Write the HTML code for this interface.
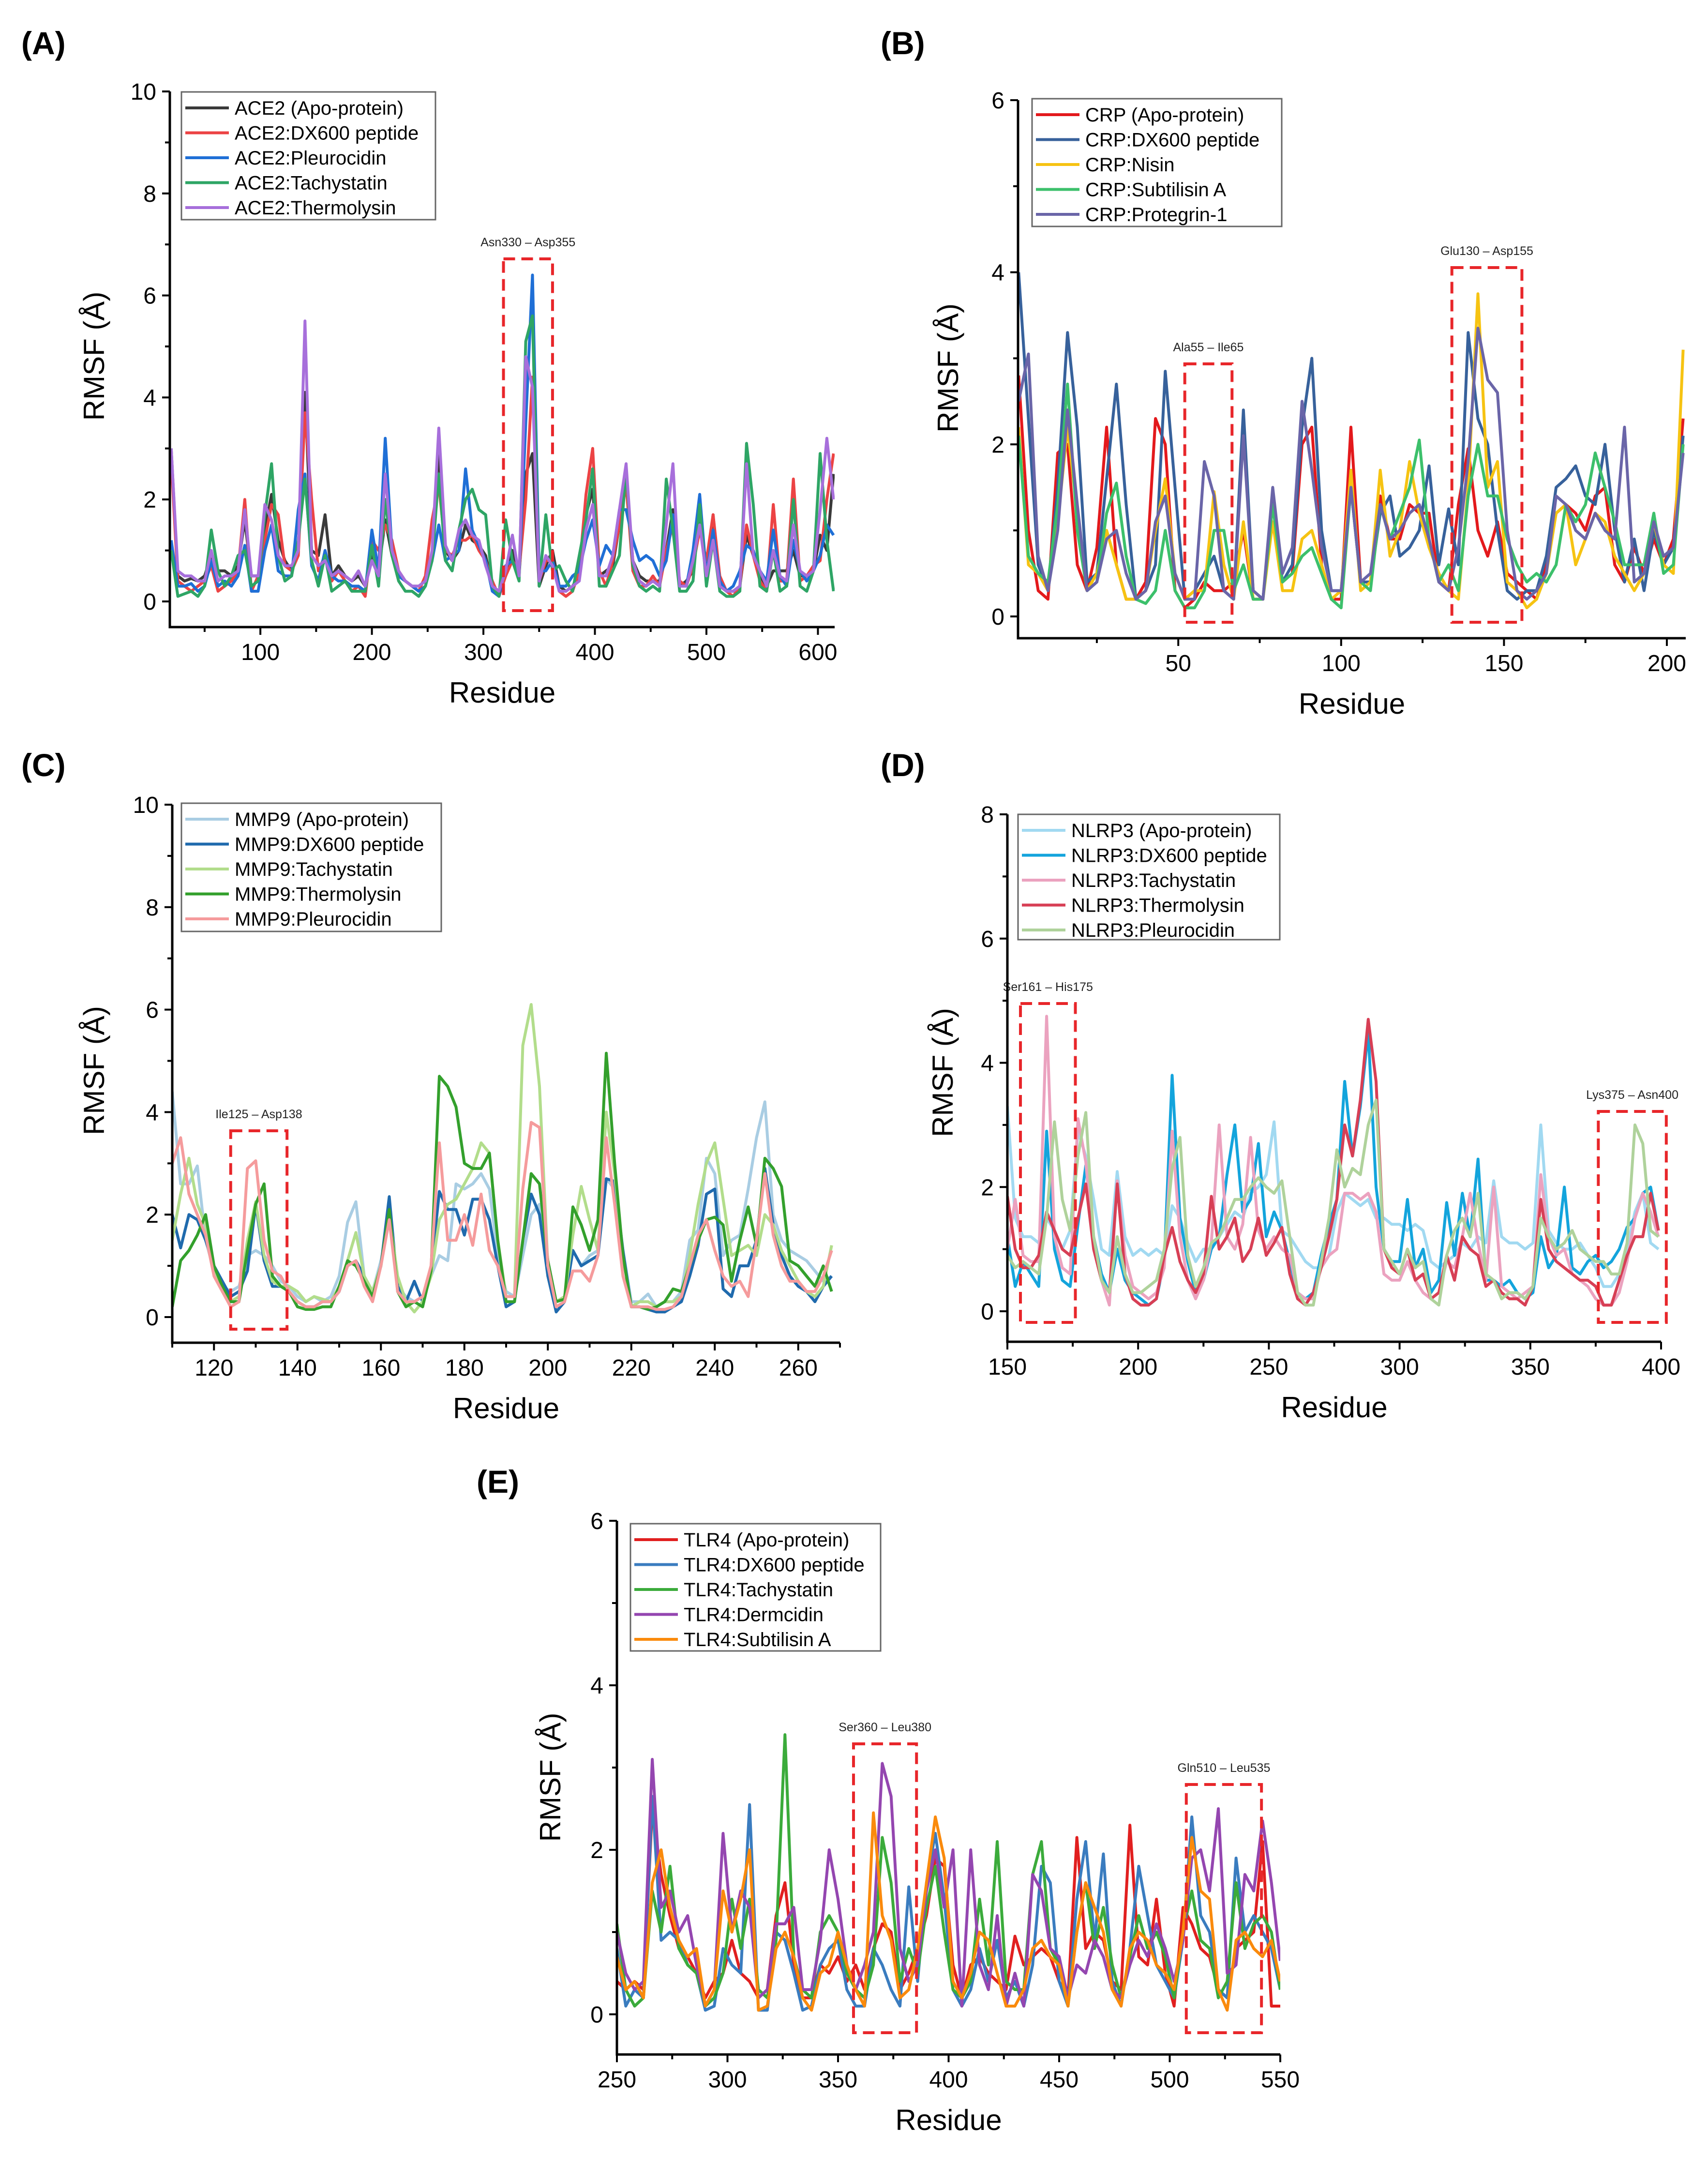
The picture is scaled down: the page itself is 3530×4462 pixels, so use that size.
<!DOCTYPE html>
<html><head><meta charset="utf-8"><title>RMSF panels</title>
<style>
html,body{margin:0;padding:0;background:#fff;}
svg{display:block;font-family:"Liberation Sans",Arial,sans-serif;}
</style></head>
<body>
<svg id="fig" xmlns="http://www.w3.org/2000/svg" width="3530" height="4462" viewBox="0 0 3530 4462">
<rect x="0" y="0" width="3530" height="4462" fill="#fff"/>
</svg>
<script>
// ---------- Panel A data (residue start 20, step 6) ----------
const startA = 20, stepA = 6;
const namesA = ["ACE2 (Apo-protein)","ACE2:DX600 peptide","ACE2:Pleurocidin","ACE2:Tachystatin","ACE2:Thermolysin"];
const ace2Apo = [3.0,0.5,0.4,0.45,0.4,0.5,0.9,0.6,0.6,0.5, 0.7,1.6,0.5,0.5,1.4,2.1,1.2,0.8,0.6,1.0, 4.1,1.0,0.9,1.7,0.5,0.7,0.5,0.4,0.5,0.3, 0.9,0.6,1.6,0.9,0.5,0.4,0.3,0.3,0.4,0.9, 3.0,1.0,0.8,1.0,1.5,1.2,1.1,0.9,0.3,0.2, 0.5,1.0,0.5,2.5,2.9,0.3,0.7,1.0,0.3,0.2, 0.3,0.5,1.7,2.2,0.5,0.6,0.7,1.5,2.5,0.8, 0.5,0.4,0.4,0.4,1.0,1.8,0.3,0.4,0.6,1.8, 0.6,1.7,0.3,0.2,0.2,0.3,1.3,0.9,0.5,0.3, 0.6,0.6,0.6,1.0,0.5,0.5,0.6,1.3,1.0,2.5];
const ace2Dx600 = [2.8,0.4,0.3,0.2,0.3,0.4,0.7,0.2,0.3,0.4, 0.6,2.0,0.2,0.5,1.2,1.9,1.7,0.7,0.6,0.9, 3.7,2.0,0.6,0.9,0.4,0.6,0.4,0.2,0.3,0.1, 1.2,1.0,1.5,1.2,0.6,0.4,0.3,0.2,0.5,1.6, 2.3,1.0,0.9,1.2,1.2,1.3,1.0,0.8,0.4,0.1, 0.5,0.8,0.6,2.0,4.4,0.4,0.8,0.8,0.2,0.1, 0.2,0.6,2.1,3.0,0.6,0.3,0.8,1.5,2.3,0.6, 0.3,0.3,0.5,0.3,1.0,1.5,0.4,0.3,0.7,1.4, 0.8,1.7,0.5,0.2,0.1,0.3,1.5,0.9,0.4,0.2, 1.9,0.4,0.4,2.4,0.4,0.5,0.7,0.8,2.0,2.9];
const ace2Pleuro = [1.2,0.3,0.3,0.35,0.2,0.3,0.8,0.3,0.4,0.3, 0.5,1.1,0.2,0.2,1.0,1.5,0.6,0.5,0.5,1.8, 2.5,0.7,0.4,1.0,0.5,0.4,0.4,0.3,0.3,0.2, 1.4,0.6,3.2,1.0,0.5,0.4,0.3,0.2,0.3,0.8, 1.5,0.8,0.9,1.0,2.6,1.4,1.1,0.8,0.2,0.1, 0.7,0.8,0.5,3.5,6.4,0.6,0.6,0.8,0.3,0.3, 0.5,0.6,1.2,1.6,0.7,1.1,0.9,1.8,1.8,1.2, 0.8,0.9,0.8,0.5,0.8,1.7,0.3,0.3,1.0,2.1, 0.5,1.4,0.4,0.2,0.3,0.6,1.1,1.0,0.6,0.4, 1.4,0.5,0.3,1.2,0.6,0.4,0.6,0.9,1.5,1.3];
const ace2Tachy = [1.0,0.1,0.15,0.2,0.1,0.3,1.4,0.6,0.3,0.5, 0.9,1.0,0.3,0.4,1.7,2.7,0.9,0.4,0.5,1.2, 2.4,0.8,0.3,0.9,0.2,0.3,0.4,0.2,0.2,0.2, 1.1,0.3,2.0,0.9,0.4,0.2,0.2,0.1,0.3,0.8, 2.5,0.8,0.6,1.4,2.0,2.2,1.8,1.7,0.3,0.1, 1.6,0.8,0.4,5.1,5.6,0.3,1.7,0.6,0.7,0.4, 0.2,0.9,1.6,2.6,0.3,0.3,0.6,0.9,2.6,0.7, 0.3,0.2,0.3,0.2,2.4,1.4,0.2,0.2,0.4,1.9, 0.3,1.2,0.2,0.1,0.1,0.2,3.1,1.9,0.3,0.2, 1.0,0.2,0.3,2.0,0.3,0.2,0.6,2.9,1.2,0.2];
const ace2Thermo = [3.0,0.6,0.5,0.5,0.4,0.4,1.0,0.4,0.5,0.5, 0.6,1.8,0.5,0.5,1.9,1.6,0.9,0.7,0.7,1.0, 5.5,0.9,0.7,0.8,0.5,0.6,0.5,0.4,0.6,0.3, 0.8,0.5,2.5,1.0,0.6,0.4,0.3,0.3,0.4,1.0, 3.4,1.1,0.8,1.4,1.6,1.3,1.2,0.7,0.3,0.2, 0.6,1.3,0.5,4.8,4.2,0.4,0.9,0.7,0.2,0.2, 0.3,0.4,1.4,1.9,0.5,0.5,0.9,1.8,2.7,0.8, 0.4,0.3,0.4,0.3,1.5,2.7,0.3,0.3,0.8,1.5, 0.5,1.2,0.3,0.2,0.2,0.3,2.7,0.9,0.6,0.3, 1.0,0.5,0.4,1.5,0.6,0.5,0.6,1.8,3.2,2.0];
const xTicksA = [100,200,300,400,500,600];
const yTicksA = [0,2,4,6,8,10];

// ---------- Panel B data (residue start 1, step 3) ----------
const startB = 1, stepB = 3;
const namesB = ["CRP (Apo-protein)","CRP:DX600 peptide","CRP:Nisin","CRP:Subtilisin A","CRP:Protegrin-1"];
const crpApo = [2.8,1.0,0.3,0.2,1.9,2.0,0.6,0.3,0.8,2.2, 0.6,0.2,0.2,0.4,2.3,2.0,0.3,0.1,0.2,0.4, 0.3,0.3,0.4,1.0,0.2,0.2,1.3,0.4,0.5,2.0, 2.2,0.6,0.2,0.2,2.2,0.4,0.4,1.4,0.9,0.9, 1.3,1.2,1.2,0.4,0.3,1.3,1.95,1.0,0.7,1.1, 0.5,0.4,0.3,0.2,0.6,1.2,1.3,1.2,1.0,1.4, 1.5,0.6,0.4,0.8,0.5,0.9,0.6,0.9,2.3];
const crpDx600 = [4.0,2.3,0.6,0.3,1.5,3.3,2.2,0.4,0.5,1.6, 2.7,1.3,0.2,0.3,0.6,2.85,1.5,0.2,0.3,0.5, 0.7,0.3,0.2,2.4,0.3,0.2,1.4,0.4,0.6,2.2, 3.0,1.0,0.3,0.3,1.5,0.4,0.4,1.2,1.4,0.7, 0.8,1.0,1.75,0.6,1.25,0.6,3.3,2.3,2.0,1.0, 0.3,0.2,0.3,0.3,0.7,1.5,1.6,1.75,1.4,1.3, 2.0,1.0,0.4,0.9,0.3,1.0,0.6,0.8,2.1];
const crpNisin = [2.2,0.6,0.5,0.3,1.1,2.2,1.2,0.3,0.5,1.0, 0.6,0.2,0.2,0.3,1.0,1.6,0.5,0.2,0.3,0.3, 1.45,0.6,0.2,1.1,0.2,0.2,1.1,0.3,0.3,0.9, 1.0,0.6,0.2,0.3,1.7,0.3,0.4,1.7,0.7,1.0, 1.8,1.2,0.8,0.5,0.3,0.2,1.5,3.75,1.5,1.8, 0.4,0.3,0.1,0.2,0.5,1.2,1.3,0.6,0.9,1.2, 1.1,0.7,0.5,0.3,0.5,1.1,0.6,0.5,3.1];
const crpSubtilisin = [2.1,0.7,0.5,0.4,1.3,2.7,1.0,0.3,0.4,1.2, 1.55,0.7,0.2,0.15,0.3,1.0,0.3,0.1,0.1,0.3, 1.0,1.0,0.3,0.6,0.2,0.2,1.3,0.4,0.5,0.7, 0.8,0.5,0.2,0.1,1.5,0.4,0.3,1.3,0.9,1.2, 1.5,2.05,0.9,0.4,0.6,0.3,1.4,2.0,1.4,1.4, 0.9,0.6,0.4,0.5,0.4,0.6,1.3,1.1,1.3,1.9, 1.5,1.1,0.6,0.6,0.6,1.2,0.5,0.6,2.0];
const crpProtegrin = [2.5,3.05,0.7,0.3,1.0,2.4,1.3,0.3,0.4,0.9, 1.0,0.5,0.2,0.3,1.1,1.4,0.5,0.2,0.2,1.8, 1.4,0.3,0.2,2.1,0.3,0.2,1.5,0.5,0.8,2.5, 1.7,0.8,0.3,0.3,1.5,0.4,0.5,1.3,0.9,1.0, 1.2,1.3,0.9,0.4,0.3,0.8,1.8,3.35,2.75,2.6, 1.0,0.3,0.2,0.3,0.5,1.4,1.3,1.0,0.9,1.2, 1.0,0.9,2.2,0.4,0.5,1.1,0.7,0.8,1.9];
const xTicksB = [50,100,150,200];
const yTicksB = [0,2,4,6];

// ---------- Panel C data (residue start 110, step 2) ----------
const startC = 110, stepC = 2;
const namesC = ["MMP9 (Apo-protein)","MMP9:DX600 peptide","MMP9:Tachystatin","MMP9:Thermolysin","MMP9:Pleurocidin"];
const mmpApo = [4.4,2.6,2.6,2.95,1.5,0.9,0.6,0.5,0.6,1.2, 1.3,1.2,1.0,0.7,0.6,0.4,0.3,0.4,0.3,0.4, 0.8,1.85,2.25,0.8,0.5,1.1,1.9,0.6,0.4,0.3, 0.4,0.8,1.2,1.1,2.6,2.5,2.6,2.8,2.5,1.2, 0.5,0.4,1.2,2.0,2.2,0.8,0.2,0.3,1.3,1.0, 1.2,1.3,2.7,2.5,1.3,0.3,0.3,0.45,0.2,0.3, 0.3,0.5,1.5,1.7,3.1,2.8,1.2,1.5,1.6,2.5, 3.5,4.2,2.0,1.5,1.3,1.2,1.1,0.9,0.7,0.8];
const mmpDx600 = [2.0,1.35,2.0,1.9,1.5,1.0,0.7,0.4,0.5,0.9, 2.2,1.1,0.6,0.6,0.5,0.3,0.2,0.2,0.3,0.3, 0.5,1.0,1.1,0.8,0.4,1.0,2.35,0.6,0.3,0.7, 0.3,0.9,2.45,2.1,2.1,1.6,2.3,2.3,1.9,1.0, 0.2,0.3,1.5,2.4,2.0,0.8,0.1,0.3,1.3,1.0, 1.1,1.2,2.7,2.65,1.3,0.2,0.2,0.15,0.1,0.1, 0.2,0.3,0.8,1.4,2.4,2.5,0.55,0.4,1.0,1.0, 1.5,2.9,1.8,1.2,0.8,0.6,0.5,0.3,0.6,0.8];
const mmpTachy = [1.5,2.4,3.1,2.2,1.8,1.0,0.5,0.3,0.4,1.5, 2.25,1.2,0.7,0.6,0.6,0.5,0.3,0.4,0.35,0.3, 0.6,1.1,1.65,0.8,0.5,1.0,2.0,0.8,0.3,0.1, 0.3,0.8,1.9,2.2,2.3,2.6,2.9,3.4,3.2,1.5, 0.4,0.4,5.3,6.1,4.5,1.0,0.3,0.4,1.6,2.55, 1.9,1.3,4.0,2.8,1.2,0.2,0.3,0.3,0.2,0.3, 0.3,0.4,1.2,2.2,3.0,3.4,2.3,1.2,1.3,1.4, 1.2,2.0,1.8,1.3,1.0,0.7,0.5,0.4,0.6,1.4];
const mmpThermo = [0.2,1.1,1.3,1.6,2.0,1.0,0.6,0.3,0.3,1.3, 2.2,2.6,0.8,0.6,0.5,0.2,0.15,0.15,0.2,0.2, 0.6,1.1,1.0,0.7,0.4,1.0,2.1,0.5,0.2,0.3, 0.2,0.9,4.7,4.5,4.1,3.0,2.9,2.9,3.2,1.5, 0.3,0.3,1.5,2.8,2.6,1.1,0.3,0.35,2.15,1.8, 1.3,1.9,5.15,3.0,1.2,0.2,0.2,0.15,0.2,0.3, 0.55,0.5,1.0,1.5,1.9,1.95,1.8,0.7,1.5,2.15, 1.4,3.1,2.9,2.55,1.1,1.0,0.8,0.6,1.0,0.5];
const mmpPleuro = [3.0,3.5,2.4,2.0,1.6,0.8,0.5,0.2,0.3,2.9, 3.05,1.5,0.9,0.8,0.5,0.3,0.2,0.2,0.3,0.3, 0.5,1.0,1.1,0.6,0.3,1.0,1.9,0.5,0.3,0.3, 0.4,1.0,3.4,1.5,1.5,2.0,1.4,2.4,1.3,1.0, 0.4,0.4,2.5,3.8,3.7,1.0,0.2,0.3,0.9,0.9, 0.7,1.2,3.5,2.2,0.8,0.2,0.2,0.2,0.15,0.15, 0.2,0.4,1.0,1.6,1.9,1.3,0.8,0.6,0.7,0.4, 1.5,2.8,1.6,1.0,0.7,0.7,0.5,0.5,0.8,1.3];
const xTicksC = [120,140,160,180,200,220,240,260];
const yTicksC = [0,2,4,6,8,10];

// ---------- Panel D data (residue start 150, step 3) ----------
const startD = 150, stepD = 3;
const namesD = ["NLRP3 (Apo-protein)","NLRP3:DX600 peptide","NLRP3:Tachystatin","NLRP3:Thermolysin","NLRP3:Pleurocidin"];
const nlrpApo = [3.3,1.5,1.2,1.2,1.1,1.5,1.3,1.0,1.3,2.9, 2.5,1.8,1.0,0.9,2.25,1.2,0.9,1.0,0.9,1.0, 0.9,1.7,1.5,1.1,0.8,1.0,1.0,1.2,1.4,1.6, 1.5,1.9,2.0,2.2,3.05,1.3,1.2,1.0,0.8,0.7, 0.7,0.9,1.6,1.9,1.8,1.7,1.8,1.5,1.5,1.4, 1.4,1.3,1.4,1.3,0.8,0.7,0.8,0.9,1.1,1.0, 1.2,1.1,2.1,1.2,1.1,1.1,1.0,1.1,3.0,1.3, 1.1,1.0,1.0,1.1,0.9,0.7,0.4,0.4,0.6,1.0, 1.6,1.9,1.1,1.0];
const nlrpDx600 = [1.2,0.4,0.8,0.6,0.4,2.9,1.0,0.5,0.4,1.4, 2.35,1.2,0.6,0.3,1.0,0.5,0.3,0.2,0.1,0.2, 0.8,3.8,1.5,0.8,0.3,0.5,1.0,1.2,2.2,3.0, 1.6,1.8,2.7,1.2,1.6,1.3,0.8,0.3,0.2,0.3, 0.9,1.4,1.8,3.7,2.5,3.3,4.5,2.0,1.0,0.8, 0.8,1.8,0.7,1.0,0.3,0.5,1.75,0.9,1.9,1.2, 2.45,0.5,0.5,0.4,0.5,0.3,0.2,0.3,1.2,0.7, 0.9,2.0,0.7,0.6,0.8,0.9,0.7,0.8,1.0,1.35, 1.5,1.9,2.0,1.3];
const nlrpTachy = [1.0,1.8,0.9,0.8,0.8,4.75,1.2,0.7,0.6,3.1, 2.4,1.0,0.5,0.1,2.1,0.9,0.4,0.3,0.2,0.3, 0.7,2.9,1.2,0.5,0.2,0.5,1.1,3.0,1.2,1.0, 1.4,2.8,1.3,1.0,1.2,1.0,0.9,0.3,0.2,0.2, 0.7,0.9,1.0,1.9,1.9,1.8,1.9,1.6,0.6,0.5, 0.5,0.8,0.5,0.3,0.2,0.3,0.8,0.7,1.2,1.9, 1.1,0.5,2.0,0.4,0.3,0.2,0.3,0.4,2.2,1.2, 0.9,1.0,0.6,0.5,0.4,0.2,0.1,0.1,0.3,0.8, 1.5,1.9,1.6,1.2];
const nlrpThermo = [1.85,1.0,0.7,0.7,0.9,1.6,1.3,1.0,0.9,1.5, 2.05,1.0,0.5,0.3,2.05,0.6,0.2,0.1,0.1,0.2, 0.9,1.35,0.8,0.5,0.3,0.6,1.85,1.0,1.2,1.5, 0.8,1.0,1.5,0.9,1.1,1.35,0.6,0.2,0.1,0.3, 0.7,1.2,1.8,3.0,2.5,3.4,4.7,3.7,1.0,0.7, 0.6,1.0,0.5,0.6,0.2,0.3,0.9,0.5,1.2,1.0, 0.9,0.4,0.5,0.3,0.2,0.2,0.1,0.4,1.8,1.0, 0.8,0.7,0.6,0.5,0.5,0.4,0.1,0.1,0.5,0.9, 1.2,1.2,1.9,1.3];
const nlrpPleuro = [0.9,0.7,0.8,0.7,0.6,1.5,3.05,1.8,1.3,2.5, 3.2,1.2,0.5,0.3,1.2,0.6,0.3,0.3,0.4,0.5, 1.0,2.3,2.8,0.9,0.4,0.7,1.1,1.2,1.5,1.8, 1.8,2.0,2.15,2.0,1.9,2.1,1.2,0.3,0.1,0.1, 0.8,1.5,2.6,2.0,2.3,2.2,3.0,3.4,1.0,0.8, 0.6,1.0,0.7,0.8,0.2,0.1,0.9,1.3,1.5,1.2, 1.9,0.6,0.5,0.2,0.3,0.3,0.2,0.4,1.5,1.2, 1.0,1.1,1.3,1.0,0.9,0.8,0.8,0.6,0.6,1.1, 3.0,2.7,1.3,1.2];
const xTicksD = [150,200,250,300,350,400];
const yTicksD = [0,2,4,6,8];

// ---------- Panel E data (residue start 250, step 4) ----------
const startE = 250, stepE = 4;
const namesE = ["TLR4 (Apo-protein)","TLR4:DX600 peptide","TLR4:Tachystatin","TLR4:Dermcidin","TLR4:Subtilisin A"];
const tlrApo = [0.4,0.3,0.4,0.3,2.5,1.7,1.2,0.8,0.7,0.5, 0.2,0.4,0.5,0.9,0.5,0.4,0.2,0.3,1.2,1.6, 0.6,0.2,0.2,0.6,0.5,0.7,0.4,0.6,0.3,0.8, 1.1,1.0,0.3,0.5,0.8,1.2,1.9,1.8,0.6,0.2, 0.6,0.7,0.5,0.4,0.3,0.95,0.6,0.7,0.8,0.7, 0.4,0.2,2.15,0.8,1.0,0.9,0.4,0.3,2.3,0.7, 0.6,1.4,0.5,0.1,1.3,1.1,0.8,0.7,0.3,0.2, 0.8,0.9,1.0,2.1,0.1,0.1];
const tlrDx600 = [0.8,0.1,0.3,0.2,2.65,0.9,1.0,0.9,0.6,0.5, 0.05,0.1,0.8,0.6,0.5,2.55,0.05,0.05,1.0,0.9, 0.5,0.05,0.1,0.6,0.8,0.9,0.3,0.1,0.1,0.8, 0.6,0.3,0.1,1.55,0.4,1.6,2.2,1.4,0.3,0.1, 0.3,0.8,0.4,0.9,0.2,0.4,0.1,0.6,1.8,1.6, 0.4,0.1,1.4,2.1,0.9,1.95,0.4,0.1,0.8,1.8, 1.2,0.6,0.4,0.2,0.9,2.4,1.2,1.0,0.3,0.2, 1.9,1.0,1.2,1.0,0.8,0.3];
const tlrTachy = [1.1,0.3,0.1,0.2,1.5,1.0,1.8,0.8,0.6,0.5, 0.1,0.2,0.5,1.4,0.8,1.4,0.3,0.2,0.9,3.4, 0.7,0.3,0.2,1.0,1.2,1.0,0.5,0.3,0.2,0.6, 2.15,1.6,0.4,0.8,0.5,1.3,1.8,1.0,0.3,0.2, 0.4,1.4,0.6,2.1,0.4,0.3,0.3,1.7,2.1,0.8, 0.6,0.1,1.0,1.6,0.8,1.3,0.6,0.2,0.7,1.2, 0.8,1.0,0.7,0.2,1.0,1.5,0.9,0.8,0.2,0.4, 1.6,0.8,1.1,1.2,1.0,0.3];
const tlrDerm = [1.0,0.5,0.3,0.4,3.1,1.3,1.5,1.0,1.2,0.6, 0.1,0.3,2.2,1.0,1.5,1.3,0.2,0.3,1.1,1.1, 1.3,0.3,0.3,0.9,2.0,1.4,0.6,0.3,0.6,1.0, 3.05,2.65,0.8,0.4,0.6,1.5,2.0,1.3,2.0,0.1, 2.0,0.6,0.3,1.2,0.1,0.5,0.1,1.7,1.5,0.8, 0.7,0.2,0.6,0.5,0.9,0.7,0.3,0.2,0.6,0.9, 0.7,1.1,0.8,0.4,0.9,1.9,2.0,1.5,2.5,0.5, 0.6,1.7,1.5,2.35,1.6,0.65];
const tlrSubtilisin = [0.7,0.3,0.4,0.2,1.6,2.0,1.3,0.9,0.7,0.8, 0.1,0.3,1.5,1.0,1.4,2.0,0.05,0.1,0.8,1.0, 0.7,0.2,0.05,0.5,0.6,1.0,0.6,0.3,0.1,2.45, 1.2,0.9,0.2,0.3,0.8,1.6,2.4,1.9,0.4,0.2, 0.5,1.0,0.9,0.5,0.1,0.1,0.3,0.8,0.9,0.7, 0.6,0.1,1.0,1.6,1.3,1.0,0.3,0.1,0.8,1.0, 0.9,0.6,0.5,0.3,1.0,2.15,1.5,1.4,0.3,0.05, 0.9,1.0,0.8,0.7,0.9,0.4];
const xTicksE = [250,300,350,400,450,500,550];
const yTicksE = [0,2,4,6];

// ---------- drawing ----------
const NS = "http://www.w3.org/2000/svg";
const svg = document.getElementById("fig");
function mk(tag, attrs, parent, text){
  const e = document.createElementNS(NS, tag);
  for (const k in attrs) e.setAttribute(k, attrs[k]);
  if (text !== undefined) e.textContent = text;
  (parent || svg).appendChild(e);
  return e;
}

function drawPanel(p){
  const g = mk("g", {});
  
  
  const xs = v => p.L + (v - p.xmin) / (p.xmax - p.xmin) * (p.R - p.L);
  const ys = v => p.y0 - v / p.ymax * (p.y0 - p.yTop);

  const lab = mk("text", {x:p.labX, y:p.labY, "font-size":66, "font-weight":"bold", fill:"#000"}, g, "(" + p.key.toUpperCase() + ")");
  
  

  const sg = mk("g", {"clip-path":"url(#clip-" + p.key + ")"}, g);
  const cp = mk("clipPath", {id:"clip-" + p.key}, g);
  mk("rect", {x:p.L, y:p.yTop - 60, width:p.R - p.L, height:p.B - p.yTop + 60}, cp);
  p.series.forEach((vals, si) => {
    let d = "";
    vals.forEach((v, i) => {
      const r = p.start + p.step * i;
      d += (i ? "L" : "M") + xs(r).toFixed(1) + " " + ys(v).toFixed(1);
    });
    const path = mk("path", {d:d, fill:"none", stroke:p.colors[si], "stroke-width":6, "stroke-linejoin":"round"}, sg);
    
    
  });

  p.boxes.forEach(b => {
    const x1 = xs(b.r1), x2 = xs(b.r2);
    const rect = mk("rect", {x:x1, y:b.top, width:x2 - x1, height:b.bot - b.top, fill:"none", stroke:"#e8262a", "stroke-width":6, "stroke-dasharray":"24 13"}, g);
    
    
    const t = mk("text", {x:(x1 + x2) / 2, y:b.top - 26, "font-size":25, "text-anchor":"middle", fill:"#222"}, g, b.label);
    
    
  });

  const ax = mk("path", {d:"M" + p.L + " " + p.yTop + "V" + p.B + "H" + p.R, fill:"none", stroke:"#000", "stroke-width":5}, g);
  
  

  for (let k = 0; k < p.yTicks.length; k++){
    const v = p.yTicks[k], y = ys(v);
    mk("line", {x1:p.L - 16, y1:y, x2:p.L, y2:y, stroke:"#000", "stroke-width":4}, g);
    const t = mk("text", {x:p.L - 28, y:y + 17, "font-size":48, "text-anchor":"end", fill:"#000"}, g, String(v));
    
    
    if (k < p.yTicks.length - 1){
      const ym = ys((v + p.yTicks[k + 1]) / 2);
      mk("line", {x1:p.L - 10, y1:ym, x2:p.L, y2:ym, stroke:"#000", "stroke-width":4}, g);
    }
  }
  const dx = p.xTicks[1] - p.xTicks[0];
  for (let v = p.xTicks[0] - dx / 2; v <= p.xmax; v += dx / 2){
    if (v < p.xmin) continue;
    const major = p.xTicks.indexOf(v) >= 0;
    const x = xs(v);
    mk("line", {x1:x, y1:p.B, x2:x, y2:p.B + (major ? 16 : 10), stroke:"#000", "stroke-width":4}, g);
  }
  p.xTicks.forEach(v => {
    const t = mk("text", {x:xs(v), y:p.B + 68, "font-size":48, "text-anchor":"middle", fill:"#000"}, g, String(v));
    
    
  });

  const xt = mk("text", {x:(p.L + p.R) / 2, y:p.B + 156, "font-size":60, "text-anchor":"middle", fill:"#000"}, g, "Residue");
  
  
  const yc = (p.y0 + p.yTop) / 2 + 20;
  const yt = mk("text", {x:p.ytX, y:yc, "font-size":60, "text-anchor":"middle", fill:"#000", transform:"rotate(-90 " + p.ytX + " " + yc + ")"}, g, "RMSF (\u00C5)");
  
  

  const lg = mk("g", {}, g);
  
  
  mk("rect", {x:p.lg[0], y:p.lg[1], width:p.lg[2], height:p.lg[3], fill:"#fff", stroke:"#666", "stroke-width":3}, lg);
  p.names.forEach((nm, i) => {
    const cy = p.lg[1] + 33 + i * 51.5;
    const e = mk("g", {}, lg);
    
    
    mk("line", {x1:p.lg[0] + 8, y1:cy, x2:p.lg[0] + 98, y2:cy, stroke:p.colors[i], "stroke-width":6}, e);
    mk("text", {x:p.lg[0] + 110, y:cy + 14, "font-size":40, fill:"#000"}, e, nm);
  });
}

const panels = [
  {key:"a", L:351, R:1725, yTop:189, y0:1243, B:1296, xmin:18.8, xmax:615, ymax:10,
   start:startA, step:stepA, series:[ace2Apo,ace2Dx600,ace2Pleuro,ace2Tachy,ace2Thermo], names:namesA,
   colors:["#3a3a3a","#ec4344","#1f6fd6","#2ea565","#a76fdb"], xTicks:xTicksA, yTicks:yTicksA,
   labX:44, labY:112, ytX:215, lg:[375,190,525,264],
   boxes:[{r1:318, r2:362, top:535, bot:1262, label:"Asn330 \u2013 Asp355"}]},
  {key:"b", L:2104, R:3484, yTop:207, y0:1274, B:1319, xmin:0.8, xmax:205.8, ymax:6,
   start:startB, step:stepB, series:[crpApo,crpDx600,crpNisin,crpSubtilisin,crpProtegrin], names:namesB,
   colors:["#e3191c","#37619b","#f6c312","#3cc06b","#6a65a8"], xTicks:xTicksB, yTicks:yTicksB,
   labX:1820, labY:112, ytX:1980, lg:[2133,204,516,264],
   boxes:[{r1:52, r2:66.5, top:752, bot:1286, label:"Ala55 \u2013 Ile65"},
          {r1:134, r2:155.5, top:553, bot:1286, label:"Glu130 \u2013 Asp155"}]},
  {key:"c", L:356, R:1736, yTop:1663, y0:2722, B:2775, xmin:110, xmax:270, ymax:10,
   start:startC, step:stepC, series:[mmpApo,mmpDx600,mmpTachy,mmpThermo,mmpPleuro], names:namesC,
   colors:["#a9cde3","#1f6aad","#b2dd8b","#33a02c","#f59b9c"], xTicks:xTicksC, yTicks:yTicksC,
   labX:44, labY:1604, ytX:215, lg:[375,1660,537,265],
   boxes:[{r1:124, r2:137.5, top:2337, bot:2747, label:"Ile125 \u2013 Asp138"}]},
  {key:"d", L:2082, R:3433, yTop:1683, y0:2710, B:2773, xmin:150, xmax:400, ymax:8,
   start:startD, step:stepD, series:[nlrpApo,nlrpDx600,nlrpTachy,nlrpThermo,nlrpPleuro], names:namesD,
   colors:["#a1d9f1","#13a4dc","#eba2bf","#d73f55","#afd29b"], xTicks:xTicksD, yTicks:yTicksD,
   labX:1820, labY:1604, ytX:1969, lg:[2104,1683,541,259],
   boxes:[{r1:155, r2:176, top:2074, bot:2733, label:"Ser161 \u2013 His175"},
          {r1:376, r2:402, top:2297, bot:2733, label:"Lys375 \u2013 Asn400"}]},
  {key:"e", L:1275, R:2646, yTop:3143, y0:4163, B:4246, xmin:250, xmax:550, ymax:6,
   start:startE, step:stepE, series:[tlrApo,tlrDx600,tlrTachy,tlrDerm,tlrSubtilisin], names:namesE,
   colors:["#e11f1f","#3a7cbf","#3bab3b","#9446b0","#fa8a0c"], xTicks:xTicksE, yTicks:yTicksE,
   labX:985, labY:3085, ytX:1158, lg:[1303,3149,517,263],
   boxes:[{r1:357, r2:385.5, top:3604, bot:4201, label:"Ser360 \u2013 Leu380"},
          {r1:507.5, r2:541.5, top:3688, bot:4201, label:"Gln510 \u2013 Leu535"}]}
];
panels.forEach(drawPanel);
</script>
</body></html>
